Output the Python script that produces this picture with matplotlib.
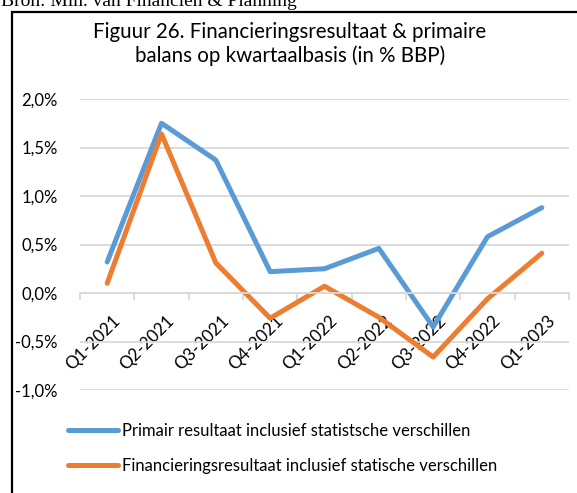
import matplotlib
matplotlib.use("Agg")
import matplotlib.pyplot as plt
from matplotlib.patches import Rectangle
from matplotlib.lines import Line2D
from matplotlib.transforms import ScaledTranslation
import numpy as np

quarters = ["Q1-2021", "Q2-2021", "Q3-2021", "Q4-2021", "Q1-2022",
            "Q2-2022", "Q3-2022", "Q4-2022", "Q1-2023"]
primair = [0.32, 1.75, 1.37, 0.22, 0.25, 0.46, -0.35, 0.58, 0.88]
financiering = [0.10, 1.64, 0.31, -0.26, 0.07, -0.25, -0.66, -0.06, 0.41]
y_ticks = [-1.0, -0.5, 0.0, 0.5, 1.0, 1.5, 2.0]

label_primair = "Primair resultaat inclusief statistsche verschillen"
label_fin = "Financieringsresultaat inclusief statische verschillen"
title = "Figuur 26. Financieringsresultaat & primaire\nbalans op kwartaalbasis (in % BBP)"
source = "Bron: Min. van Financiën & Planning"

BLUE = "#5B9BD5"
ORANGE = "#ED7D31"
GRID = "#D9D9D9"
FONT = "Lato"

W, H = 577, 493
fig = plt.figure(figsize=(W / 100, H / 100), dpi=100)

# frame around the chart (cut off at right and bottom like the screenshot)
fig.patches.append(Rectangle((12 / W, -0.1), 1.2, 1 - 12 / H + 0.1,
                             transform=fig.transFigure, fill=False,
                             edgecolor="black", linewidth=1.6))
fig.text(1 / W, 1 - 6 / H, source, family="Liberation Serif", fontsize=14,
         ha="left", va="baseline")

ax = fig.add_axes([80 / W, 1 - 390 / H, (569 - 80) / W, (390 - 99) / H])
x = np.arange(len(quarters))
ax.plot(x, primair, color=BLUE, linewidth=3.6, solid_capstyle="round",
        label=label_primair)
ax.plot(x, financiering, color=ORANGE, linewidth=3.6, solid_capstyle="round",
        label=label_fin)

ax.set_xlim(-0.5, len(quarters) - 0.5)
ax.set_ylim(-1.0, 2.0)
ax.set_yticks(y_ticks)
ax.set_yticklabels([f"{v:.1f}%".replace(".", ",") for v in y_ticks],
                   family=FONT, fontsize=12)
ax.tick_params(axis="y", length=0, pad=16)
ax.yaxis.grid(True, color=GRID, linewidth=1.3)
ax.set_axisbelow(True)
for s in ["left", "right", "top"]:
    ax.spines[s].set_visible(False)
ax.spines["bottom"].set_position(("data", 0))
ax.spines["bottom"].set_color(GRID)
ax.spines["bottom"].set_linewidth(1.3)

ax.set_xticks(x)
ax.set_xticklabels(quarters, rotation=45, ha="right", va="top",
                   rotation_mode="anchor", family=FONT, fontsize=12.3)
ax.tick_params(axis="x", which="major", length=0, pad=14)
shift = ScaledTranslation(5 / 100, 0, fig.dpi_scale_trans)
for lbl in ax.get_xticklabels():
    lbl.set_transform(lbl.get_transform() + shift)
ax.set_xticks(np.arange(len(quarters) + 1) - 0.5, minor=True)
ax.tick_params(axis="x", which="minor", length=5, color=GRID, width=1.3)

fig.text(290 / W, 1 - 44 / H, title, family=FONT, fontsize=14.8,
         ha="center", va="center", linespacing=1.2)

handles = [Line2D([], [], color=BLUE, linewidth=3.6, solid_capstyle="round"),
           Line2D([], [], color=ORANGE, linewidth=3.6, solid_capstyle="round")]
fig.legend(handles, [label_primair, label_fin], loc="upper left",
           bbox_to_anchor=(68 / W, 1 - 423 / H), frameon=False,
           prop={"family": FONT, "size": 12}, handlelength=3.0,
           handletextpad=0.25, labelspacing=1.15, borderpad=0, borderaxespad=0)

fig.savefig("out.png", dpi=100)
